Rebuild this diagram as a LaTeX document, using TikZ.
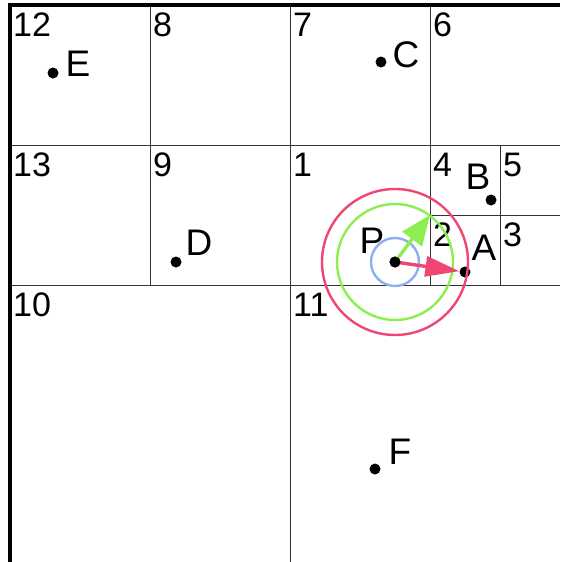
\documentclass[tikz,border=0pt]{standalone}
\usepackage{fontspec}
\setmainfont{Liberation Sans}
\usetikzlibrary{arrows.meta,positioning}
\definecolor{ringred}{RGB}{240,70,115}
\definecolor{ringgreen}{RGB}{140,238,80}
\definecolor{ringblue}{RGB}{140,175,240}

\begin{document}
\begin{tikzpicture}[x=1pt,y=-1pt,
grid/.style={draw=black!80,line width=1pt},
frame/.style={draw=black,line width=4.5pt,line join=miter},
cellnum/.style={anchor=north west,inner sep=0pt,font=\fontsize{34}{34}\selectfont},
pt/.style={circle,fill=black,inner sep=0pt,minimum size=11pt},
ptname/.style={inner sep=0pt,font=\fontsize{37}{37}\selectfont},
ring/.style={line width=2.4pt},
vec/.style={line width=3.4pt}]
\useasboundingbox (0,0) rectangle (560,562);
% quadtree cells
\draw[grid] (150,5)--(150,285);
\draw[grid] (290,5)--(290,562);
\draw[grid] (430,5)--(430,285);
\draw[grid] (500,145)--(500,285);
\draw[grid] (10,145)--(560,145);
\draw[grid] (430,215)--(560,215);
\draw[grid] (10,285)--(560,285);
\draw[frame] (10,562)--(10,5)--(560,5);
\node[cellnum] (n12) at (13,13) {12};
\node[cellnum] (n8) at (153,13) {8};
\node[cellnum] (n7) at (293,13) {7};
\node[cellnum] (n6) at (433,13) {6};
\node[cellnum] (n13) at (13,153) {13};
\node[cellnum] (n9) at (153,153) {9};
\node[cellnum] (n1) at (293,153) {1};
\node[cellnum] (n4) at (433,153) {4};
\node[cellnum] (n5) at (503,153) {5};
\node[cellnum] (n2) at (433,223) {2};
\node[cellnum] (n3) at (503,223) {3};
\node[cellnum] (n10) at (13,293) {10};
\node[cellnum] (n11) at (293,293) {11};
% points
\coordinate (q) at (430,215);
\node[pt] (P) at (395,262) {};
\node[pt] (A) at (465,272) {};
\node[pt] (B) at (491,200) {};
\node[pt] (C) at (381,62) {};
\node[pt] (D) at (176,262) {};
\node[pt] (E) at (53,73) {};
\node[pt] (F) at (375,469) {};
\draw[ring,ringred] (P.center) circle (73pt);
\draw[ring,ringgreen] (P.center) circle (58pt);
\draw[ring,ringblue] (P.center) circle (24pt);
\draw[vec,ringgreen,-{Triangle[length=30pt,width=24pt]}] (P.center)--(q);
\draw[vec,ringred,-{Triangle[length=34pt,width=20pt]}] (P.center)--(A);
\node[pt] at (P) {};
\node[ptname] (lP) at (372,241) {P};
\node[ptname] (lA) at (484,248) {A};
\node[ptname] (lB) at (478,177) {B};
\node[ptname] (lC) at (406,55) {C};
\node[ptname] (lD) at (199,243) {D};
\node[ptname] (lE) at (78,64) {E};
\node[ptname] (lF) at (400,452) {F};
\end{tikzpicture}
\end{document}
